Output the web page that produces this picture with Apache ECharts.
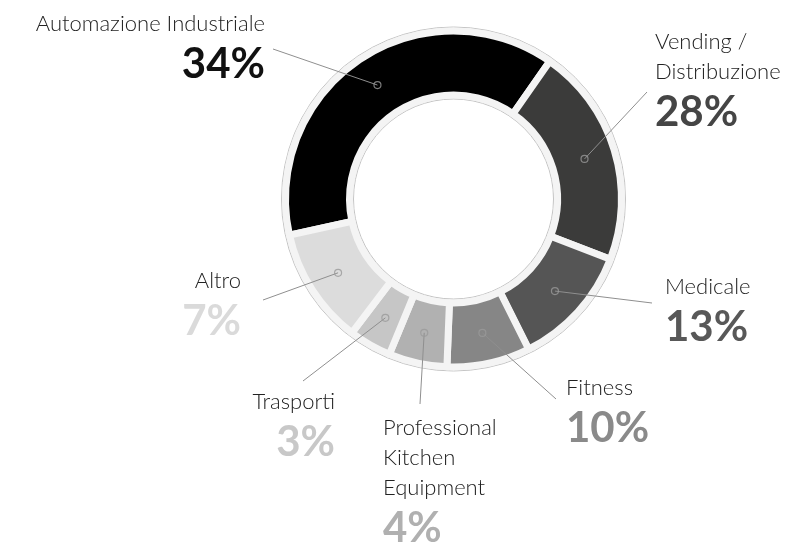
<!DOCTYPE html>
<html>
<head>
<meta charset="utf-8">
<script src="https://cdn.jsdelivr.net/npm/echarts@6/dist/echarts.min.js"></script>
<style>
  html, body { margin: 0; padding: 0; background: #fff; }
  #ringChart { width: 788px; height: 544px; }
</style>
</head>
<body>
<div id="ringChart"></div>
<script>
// data
const sectors = ['Automazione Industriale', 'Vending /\nDistribuzione', 'Medicale', 'Fitness', 'Professional\nKitchen\nEquipment', 'Trasporti', 'Altro']
const shares = [34, 28, 13, 10, 4, 3, 7] // printed percentages
const arcShares = [38.1, 21.1, 11.75, 8.0, 5.6, 4.1, 11.2] // share of the ring as it is drawn

const sliceColors = ['#000000', '#3b3b3a', '#555555', '#868686', '#b1b1b1', '#c6c6c6', '#dcdcdc']
const pctColors = ['#111111', '#454545', '#585858', '#8a8a8a', '#b0b0b0', '#c8c8c8', '#dadada']

// label placement: [x, top, align, line end x, line end y]
const labelSpots = [
  [265, 9, 'right', 273, 49],
  [655, 27, 'left', 647, 92],
  [665, 272, 'left', 652, 303],
  [566, 373, 'left', 556, 399],
  [383, 413, 'left', 420, 404],
  [335, 387, 'right', 303, 381],
  [241, 266, 'right', 263, 300],
]

const center = [453.5, 199]
const startAngle = 192.4
const total = arcShares.reduce((a, b) => a + b, 0)

let acc = 0
const anchors = arcShares.map((v) => {
  const mid = acc + v / 2
  acc += v
  return [1, mid]
})

const pieData = sectors.map((name, i) => ({
  name: name,
  value: arcShares[i],
  itemStyle: { color: sliceColors[i] },
}))

const pctRich = {}
pctColors.forEach((c, i) => {
  pctRich['p' + i] = { fontFamily: 'Lato', fontWeight: 'bold', fontSize: 42, lineHeight: 46, color: c, padding: [4, 0, 0, 0] }
})

let myChart = echarts.init(document.getElementById('ringChart'), null, { renderer: 'canvas' })

let option = {
  animation: false,
  polar: { center: center, radius: 137 },
  angleAxis: { type: 'value', min: 0, max: total, startAngle: startAngle, clockwise: true, show: false },
  radiusAxis: { type: 'value', min: 0, max: 1, show: false },
  series: [
    {
      // light track behind the slices
      type: 'pie',
      silent: true,
      center: center,
      radius: [100, 172],
      label: { show: false },
      labelLine: { show: false },
      itemStyle: { color: '#f4f4f4', borderColor: '#c4c4c4', borderWidth: 1 },
      data: [{ value: 1, name: 'track' }],
    },
    {
      type: 'pie',
      silent: true,
      center: center,
      radius: [104, 168],
      startAngle: startAngle,
      clockwise: true,
      label: { show: false },
      labelLine: { show: false },
      emphasis: { disabled: true },
      itemStyle: { borderColor: '#f4f4f4', borderWidth: 7 },
      data: pieData,
    },
    {
      // invisible copy that carries the labels, lines start at mid ring
      type: 'pie',
      silent: true,
      z: 4,
      center: center,
      radius: [0, 137],
      startAngle: startAngle,
      clockwise: true,
      avoidLabelOverlap: false,
      itemStyle: { color: 'rgba(0,0,0,0)' },
      emphasis: { disabled: true },
      label: {
        show: true,
        position: 'outside',
        formatter: (p) => `{name|${sectors[p.dataIndex]}}\n{p${p.dataIndex}|${shares[p.dataIndex]}%}`,
        rich: Object.assign({
          name: { fontFamily: 'Lato', fontWeight: 300, fontSize: 22, lineHeight: 30, color: '#222' },
        }, pctRich),
      },
      labelLine: { show: true, lineStyle: { color: '#8f8f8f', width: 1 } },
      labelLayout: (params) => {
        const s = labelSpots[params.dataIndex]
        return {
          x: s[0],
          y: s[1],
          align: s[2],
          verticalAlign: 'top',
          labelLinePoints: [params.labelLinePoints[0], [s[3], s[4]]],
        }
      },
      data: sectors.map((name, i) => ({ name: name, value: arcShares[i] })),
    },
    {
      // little rings where the lines start
      type: 'scatter',
      coordinateSystem: 'polar',
      silent: true,
      symbol: 'circle',
      symbolSize: 7,
      itemStyle: { color: 'rgba(0,0,0,0)', borderColor: '#9a9a9a', borderWidth: 1.2 },
      data: anchors,
      z: 5,
    },
  ],
}

myChart.setOption(option)
</script>
</body>
</html>
